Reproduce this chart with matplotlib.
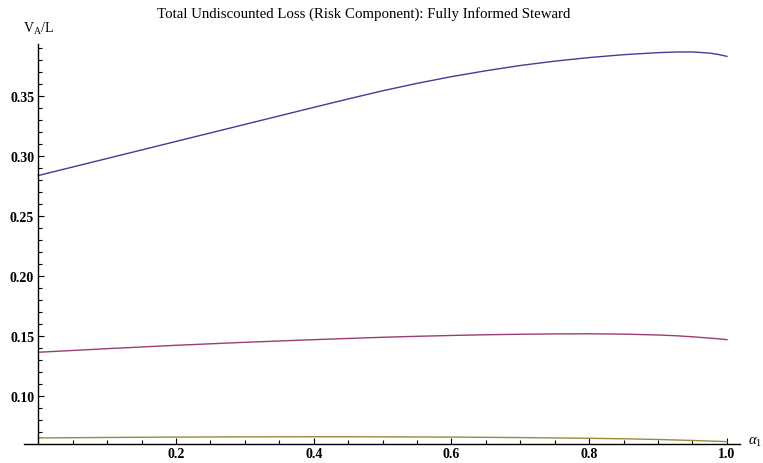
import numpy as np
import matplotlib
matplotlib.use('Agg')
import matplotlib.pyplot as plt
from matplotlib.ticker import FixedLocator

plt.rcParams['font.family'] = ['Liberation Serif', 'DejaVu Serif']
plt.rcParams['mathtext.fontset'] = 'custom'
plt.rcParams['mathtext.rm'] = 'Liberation Serif'
plt.rcParams['mathtext.it'] = 'Liberation Serif:italic'

# values
alpha1 = [0.0, 0.1, 0.2, 0.3, 0.4, 0.45, 0.5, 0.55, 0.6, 0.65, 0.7, 0.75, 0.8, 0.85, 0.9,
          0.925, 0.95, 0.975, 0.9875, 1.0]
loss_high = [0.284, 0.2982, 0.3124, 0.3266, 0.3408, 0.3478, 0.3546, 0.3608, 0.3664, 0.3713, 0.3757,
             0.3793, 0.3823, 0.3847, 0.3864, 0.3869, 0.3870, 0.3860, 0.3849, 0.3833]
loss_mid = [0.1367, 0.1397, 0.1425, 0.1450, 0.1472, 0.1482, 0.1492, 0.1500, 0.1507, 0.1513, 0.1517,
            0.1520, 0.1521, 0.1518, 0.1511, 0.1505, 0.1496, 0.1485, 0.1479, 0.1472]
loss_low = [0.0653, 0.0657, 0.0660, 0.0662, 0.0663, 0.0663, 0.0662, 0.0661, 0.0660, 0.0658, 0.0656,
            0.0653, 0.0650, 0.0646, 0.0640, 0.0636, 0.0632, 0.0627, 0.0625, 0.0622]

colors = ['#3F3D99', '#993D71', '#998B3D']

fig = plt.figure(figsize=(7.63, 4.64), dpi=100)
ax = fig.add_axes([24/763, 1 - 445.3/464, 716/763, (445.3 - 45)/464])

for ys, c in zip([loss_high, loss_mid, loss_low], colors):
    ax.plot(alpha1, ys, color=c, lw=1.0)

ax.set_xlim(-0.0208, 1.019)
ax.set_ylim(0.06, 0.3936)

for s in ['top', 'right']:
    ax.spines[s].set_visible(False)
ax.spines['left'].set_position(('data', 0))
ax.spines['left'].set_linewidth(1.0)
ax.spines['bottom'].set_linewidth(1.0)

ax.xaxis.set_major_locator(FixedLocator([0.2, 0.4, 0.6, 0.8, 1.0]))
ax.xaxis.set_minor_locator(FixedLocator(np.arange(0.05, 1.01, 0.05)))
ax.yaxis.set_major_locator(FixedLocator([0.10, 0.15, 0.20, 0.25, 0.30, 0.35]))
ax.yaxis.set_minor_locator(FixedLocator(np.arange(0.07, 0.395, 0.01)))
ax.set_xticklabels(['0.2', '0.4', '0.6', '0.8', '1.0'])
ax.set_yticklabels(['0.10', '0.15', '0.20', '0.25', '0.30', '0.35'])

ax.tick_params(which='both', direction='in', width=0.8, labelsize=10, pad=3)
ax.tick_params(which='major', length=4.5)
ax.tick_params(which='minor', length=2.8)
ax.tick_params(axis='x', pad=2)
for lab in ax.get_xticklabels() + ax.get_yticklabels():
    lab.set_fontweight('bold')

fig.text(363.5/763, 1 - 14/464, 'Total Undiscounted Loss (Risk Component): Fully Informed Steward',
         ha='center', va='center', fontsize=10.7)
fig.text(38/763, 1 - 29/464, r'$\mathrm{V_A}$/L', ha='center', va='center', fontsize=10)
fig.text(755/763, 1 - 442/464, r'$\alpha_1$', ha='center', va='center', fontsize=10.5)

fig.savefig('out.png', dpi=100)
